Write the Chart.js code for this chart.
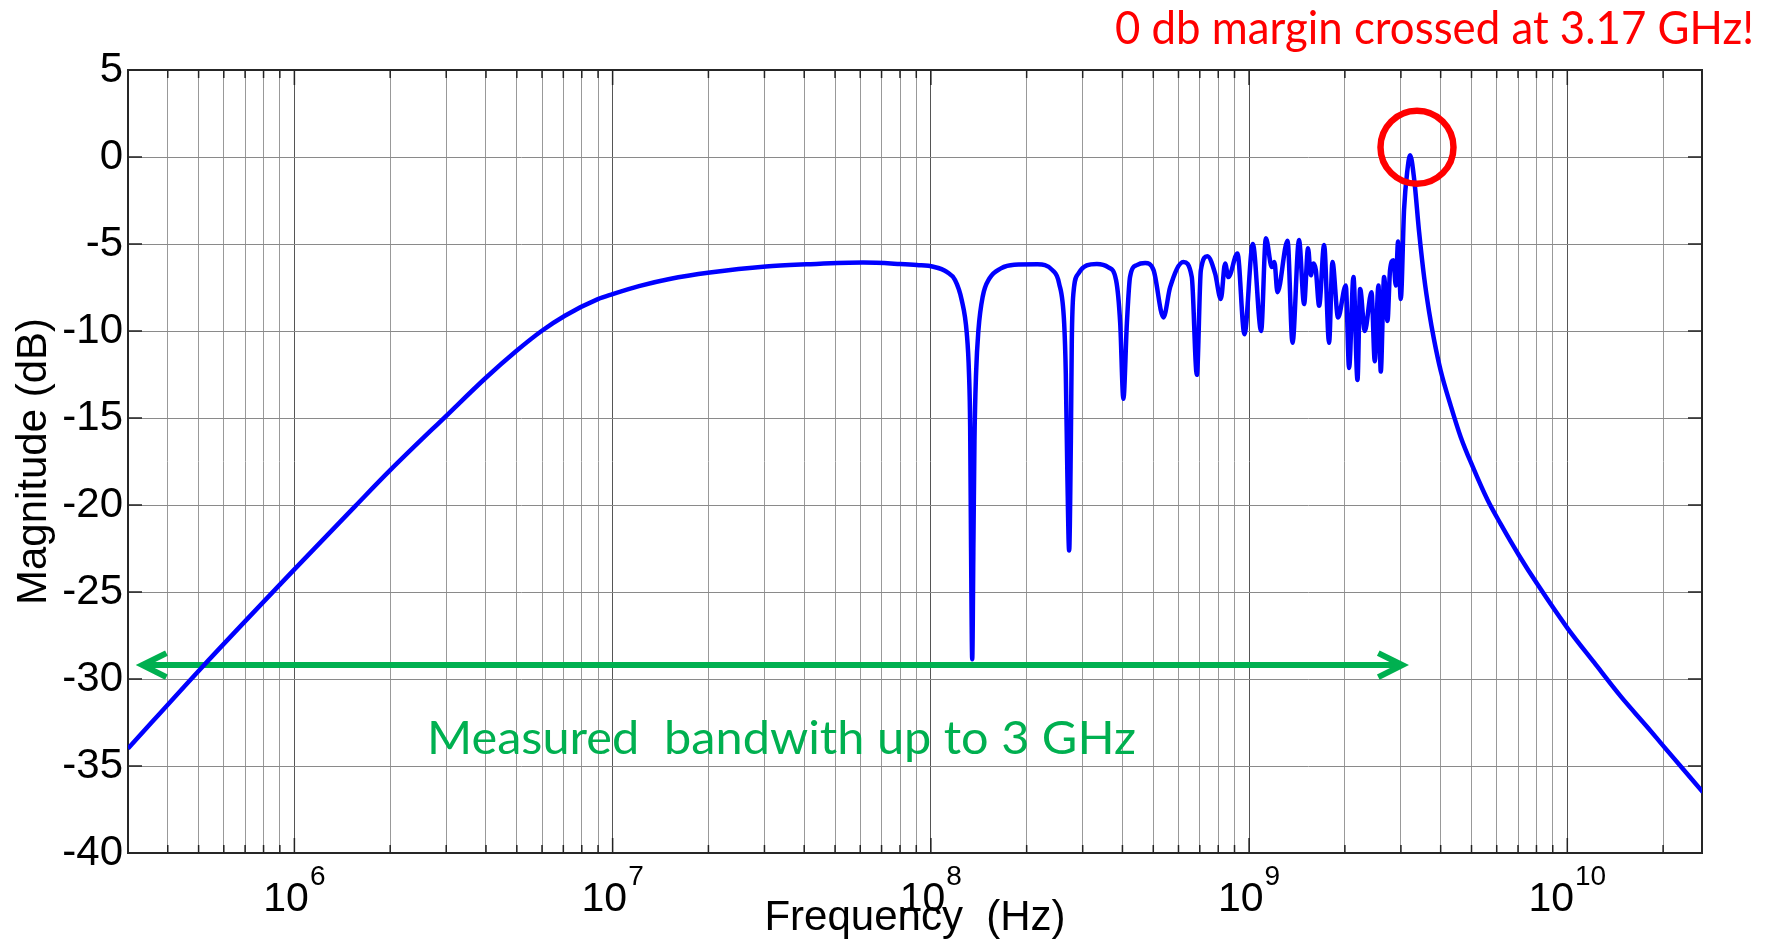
<!DOCTYPE html>
<html>
<head>
<meta charset="utf-8">
<script src="https://cdn.jsdelivr.net/npm/chart.js@4.4.1/dist/chart.umd.min.js"></script>
<style>
  body { margin: 0; background: #fff; }
  #wrap { width: 1772px; height: 940px; }
</style>
</head>
<body>
<div id="wrap"><canvas id="myChart" width="1772" height="940"></canvas></div>
<script>
// magnitude response
const freqHz = [
    3.0e5, 5.05e5, 1.0e6, 1.556e6, 2.0e6, 3.03e6, 3.99e6, 4.98e6, 5.98e6, 7.08e6,
    8.99e6, 1.0e7, 1.21e7, 1.51e7, 2.02e7, 3.03e7, 4.07e7, 6.12e7, 8.01e7, 9.04e7,
    1.019e8, 1.122e8, 1.191e8, 1.25e8, 1.297e8, 1.318e8, 1.329e8, 1.337e8, 1.349e8, 1.361e8,
    1.371e8, 1.387e8, 1.411e8, 1.455e8, 1.528e8, 1.66e8, 1.828e8, 2.163e8, 2.41e8, 2.529e8,
    2.624e8, 2.655e8, 2.685e8, 2.72e8, 2.754e8, 2.773e8, 2.805e8, 2.911e8, 3.09e8, 3.324e8,
    3.614e8, 3.819e8, 3.936e8, 4.027e8, 4.13e8, 4.227e8, 4.436e8, 4.715e8, 5.01e8, 5.382e8,
    5.649e8, 6.219e8, 6.607e8, 6.852e8, 7.054e8, 7.396e8, 7.822e8, 8.151e8, 8.408e8, 8.612e8,
    9.192e8, 9.669e8, 1.0275e9, 1.091e9, 1.129e9, 1.179e9, 1.201e9, 1.228e9, 1.321e9, 1.369e9,
    1.435e9, 1.489e9, 1.532e9, 1.563e9, 1.594e9, 1.621e9, 1.66e9, 1.721e9, 1.784e9, 1.828e9,
    1.904e9, 2.013e9, 2.062e9, 2.128e9, 2.191e9, 2.233e9, 2.31e9, 2.425e9, 2.483e9, 2.55e9,
    2.593e9, 2.656e9, 2.722e9, 2.773e9, 2.842e9, 2.891e9, 2.939e9, 2.997e9, 3.069e9, 3.146e9,
    3.206e9, 3.3e9, 3.422e9, 3.548e9, 3.679e9, 3.813e9, 4.003e9, 4.303e9, 4.626e9, 5.035e9,
    5.612e9, 6.178e9, 7.053e9, 8.058e9, 1.006e10, 1.214e10, 1.472e10, 1.786e10, 2.014e10, 2.665e10
];
const magDb = [
    -34.0, -29.45, -23.7, -20.05, -18.0, -14.8, -12.7, -11.15, -10.0, -9.12,
    -8.17, -7.88, -7.42, -7.01, -6.64, -6.29, -6.17, -6.07, -6.15, -6.21,
    -6.31, -6.6, -7.07, -8.22, -10.14, -12.45, -15.5, -22.0, -28.86, -22.0,
    -16.3, -12.45, -9.95, -8.03, -6.98, -6.4, -6.19, -6.17, -6.5, -7.26,
    -9.57, -12.45, -18.2, -22.62, -16.3, -10.5, -7.84, -6.69, -6.23, -6.15,
    -6.34, -7.07, -9.57, -13.9, -9.57, -6.88, -6.21, -6.09, -6.5, -9.22,
    -7.48, -6.03, -6.9, -12.52, -6.51, -5.7, -6.7, -8.16, -6.12, -6.9,
    -5.54, -10.19, -5.0, -10.0, -4.67, -6.32, -6.03, -7.77, -4.82, -10.68,
    -4.77, -8.45, -5.25, -6.8, -6.12, -6.5, -8.55, -5.06, -10.68, -6.03,
    -9.22, -7.38, -12.13, -6.9, -12.81, -7.58, -10.0, -7.77, -11.74, -7.38,
    -12.33, -6.9, -9.42, -6.51, -5.93, -7.38, -4.86, -8.16, -3.03, -0.72,
    0.1, -1.23, -4.31, -6.9, -8.9, -10.5, -12.3, -14.3, -16.1, -17.77,
    -19.7, -21.1, -22.9, -24.56, -27.13, -29.05, -31.0, -32.77, -33.9, -36.5
];

// annotations
const arrowHz = [3.33e5, 3.03e9];
const arrowDb = [-29.2, -29.2];
const circleHz = 3.37e9;
const circleDb = 0.56;

// axes
const xMin = 3e5;
const xMax = 2.65e10;
const xDecades = [1e5, 1e6, 1e7, 1e8, 1e9, 1e10];
const xMultipliers = [1, 2, 3, 4, 5, 6, 7, 8, 9];
const xLabelExponents = [6, 7, 8, 9, 10];
const yMin = -40;
const yMax = 5;
const yStep = 5;

let xGridTicks = [];
for (let d of xDecades) {
    for (let m of xMultipliers) {
        let v = d * m;
        if (v > xMin && v < xMax) xGridTicks.push(v);
    }
}

function isDecade(v) {
    return xDecades.some(d => Math.abs(v - d) / d < 1e-6);
}

const FONT = '"Liberation Sans", Arial, sans-serif';

function fitText(ctx, text, x, baseline, width, font, color) {
    ctx.save();
    ctx.font = font;
    ctx.fillStyle = color;
    ctx.textAlign = 'left';
    ctx.textBaseline = 'alphabetic';
    let w = ctx.measureText(text).width;
    ctx.translate(x, baseline);
    ctx.scale(width / w, 1);
    ctx.fillText(text, 0, 0);
    ctx.restore();
}

const decorations = {
    id: 'decorations',
    beforeDatasetsDraw(chart) {
        const {ctx, chartArea: a, scales: {x, y}} = chart;
        ctx.save();
        ctx.strokeStyle = '#222';
        ctx.lineWidth = 1.5;
        ctx.beginPath();
        x.ticks.forEach(t => {
            let px = x.getPixelForValue(t.value);
            let len = isDecade(t.value) ? 15 : 8;
            ctx.moveTo(px, a.bottom); ctx.lineTo(px, a.bottom - len);
            ctx.moveTo(px, a.top); ctx.lineTo(px, a.top + len);
        });
        y.ticks.forEach(t => {
            let py = y.getPixelForValue(t.value);
            ctx.moveTo(a.left, py); ctx.lineTo(a.left + 14, py);
            ctx.moveTo(a.right, py); ctx.lineTo(a.right - 14, py);
        });
        ctx.stroke();
        ctx.strokeStyle = '#262626';
        ctx.lineWidth = 2;
        ctx.strokeRect(a.left, a.top, a.right - a.left, a.bottom - a.top);
        ctx.restore();
    },
    afterDatasetsDraw(chart) {
        const {ctx, chartArea: a, scales: {x, y}} = chart;
        ctx.save();

        // arrow heads
        let lx = x.getPixelForValue(arrowHz[0]), ly = y.getPixelForValue(arrowDb[0]);
        let rx = x.getPixelForValue(arrowHz[1]), ry = y.getPixelForValue(arrowDb[1]);
        ctx.strokeStyle = '#00B050';
        ctx.lineWidth = 6;
        ctx.lineJoin = 'miter';
        ctx.lineCap = 'butt';
        ctx.beginPath();
        ctx.moveTo(lx + 24, ly - 12); ctx.lineTo(lx, ly); ctx.lineTo(lx + 24, ly + 12);
        ctx.moveTo(rx - 24, ry - 12); ctx.lineTo(rx, ry); ctx.lineTo(rx - 24, ry + 12);
        ctx.stroke();

        // red circle round the peak
        ctx.strokeStyle = '#FF0000';
        ctx.lineWidth = 6.5;
        ctx.beginPath();
        ctx.arc(x.getPixelForValue(circleHz), y.getPixelForValue(circleDb), 36.5, 0, Math.PI * 2);
        ctx.stroke();

        // x tick labels as 10^n
        ctx.fillStyle = '#000';
        ctx.textAlign = 'left';
        ctx.textBaseline = 'alphabetic';
        xLabelExponents.forEach(e => {
            let px = x.getPixelForValue(Math.pow(10, e));
            ctx.font = '41px ' + FONT;
            let wb = ctx.measureText('10').width;
            ctx.font = '28px ' + FONT;
            let we = ctx.measureText(String(e)).width;
            let left = px - (wb + 1 + we) / 2;
            ctx.font = '41px ' + FONT;
            ctx.fillText('10', left, 911);
            ctx.font = '28px ' + FONT;
            ctx.fillText(String(e), left + wb + 1, 885);
        });

        // axis titles
        ctx.font = '42px ' + FONT;
        ctx.textAlign = 'center';
        ctx.fillText('Frequency  (Hz)', (a.left + a.right) / 2, 930);
        ctx.save();
        ctx.translate(46, (a.top + a.bottom) / 2);
        ctx.rotate(-Math.PI / 2);
        ctx.fillText('Magnitude (dB)', 0, 0);
        ctx.restore();

        // notes
        fitText(ctx, '0 db margin crossed at 3.17 GHz!', 1115, 44, 639, '46px Lato, "Open Sans", sans-serif', '#FF0000');
        fitText(ctx, 'Measured  bandwith up to 3 GHz', 427, 754, 709, '47px Lato, "Open Sans", sans-serif', '#00B050');

        ctx.restore();
    }
};

const ctx = document.getElementById('myChart');

new Chart(ctx, {
    type: 'line',
    data: {
        datasets: [{
            label: 'Magnitude',
            data: freqHz.map((f, i) => ({x: f, y: magDb[i]})),
            borderColor: '#0000FF',
            borderWidth: 4.5,
            borderJoinStyle: 'round',
            cubicInterpolationMode: 'monotone',
            pointRadius: 0
        }, {
            label: 'Measured bandwidth',
            data: arrowHz.map((f, i) => ({x: f, y: arrowDb[i]})),
            borderColor: '#00B050',
            borderWidth: 6,
            borderCapStyle: 'butt',
            pointRadius: 0
        }]
    },
    options: {
        responsive: false,
        animation: false,
        layout: {
            padding: {top: 70, right: 70, left: 0, bottom: 0}
        },
        plugins: {
            legend: {display: false},
            tooltip: {enabled: false}
        },
        scales: {
            x: {
                type: 'logarithmic',
                min: xMin,
                max: xMax,
                afterBuildTicks: scale => {
                    scale.ticks = xGridTicks.map(v => ({value: v}));
                },
                afterFit: scale => {
                    scale.height = 87;
                },
                ticks: {display: false},
                grid: {
                    color: c => (c.tick && isDecade(c.tick.value)) ? '#555' : '#999',
                    lineWidth: 1,
                    drawTicks: false
                },
                border: {display: false}
            },
            y: {
                min: yMin,
                max: yMax,
                afterFit: scale => {
                    scale.width = 128;
                },
                ticks: {
                    stepSize: yStep,
                    padding: 5,
                    color: '#000',
                    font: {family: FONT, size: 42}
                },
                grid: {
                    color: '#8a8a8a',
                    lineWidth: 1,
                    drawTicks: false
                },
                border: {display: false}
            }
        }
    },
    plugins: [decorations]
});
</script>
</body>
</html>
